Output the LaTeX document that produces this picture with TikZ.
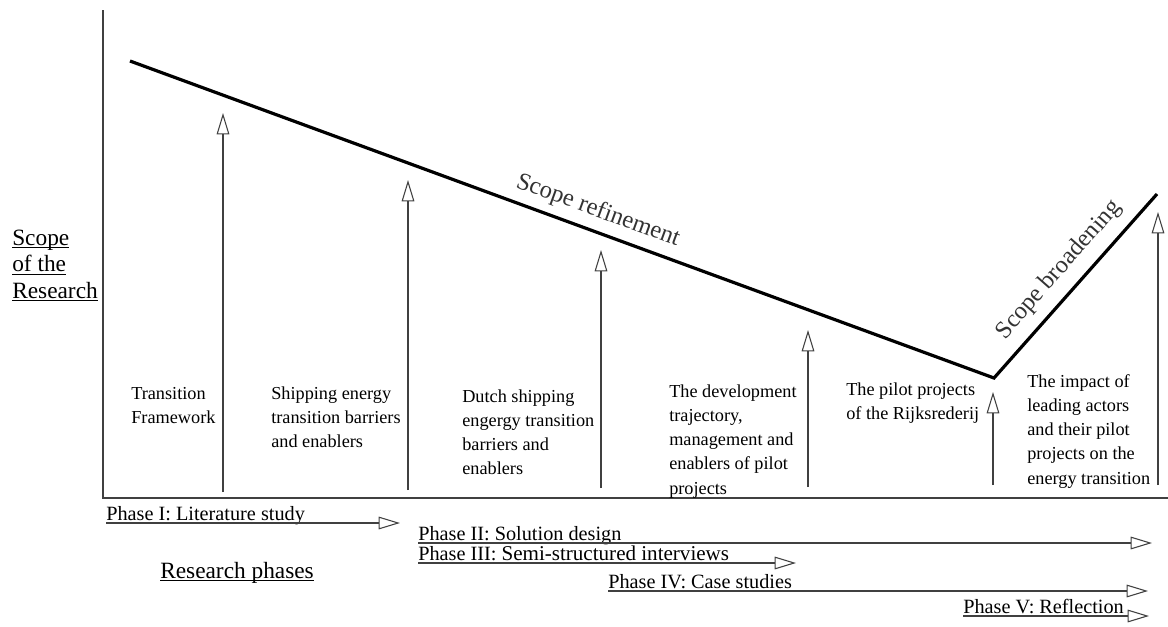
\documentclass[tikz,border=0pt]{standalone}
\usepackage{fontspec}
\setmainfont{Liberation Serif}
\usetikzlibrary{arrows.meta}
% underline at a fixed depth below the baseline (crosses descenders)
\newsavebox\ulbox
\newcommand\ulword[1]{\sbox\ulbox{#1}\rlap{\rule[-2.3pt]{\wd\ulbox}{0.75pt}}\usebox\ulbox}
\newcommand\lines[1]{\begin{tabular}[t]{@{}l@{}}#1\end{tabular}}
\begin{document}
\begin{tikzpicture}[x=0.75pt,y=-0.75pt,
  axisline/.style={draw=black!75,line width=0.9pt},
  trend/.style={draw=black,line width=2.4pt,line join=miter},
  headtip/.style={-{Triangle[length=16pt,width=9.5pt,fill=white]}},
  stem/.style={draw=black!75,line width=0.8pt,headtip},
  lbl/.style={inner sep=0pt,anchor=base west,font=\fontsize{13.7pt}{18.2pt}\selectfont},
  phase/.style={inner sep=0pt,anchor=base west,font=\fontsize{15.2pt}{18pt}\selectfont},
  axislabel/.style={inner sep=0pt,anchor=base west,font=\fontsize{17.5pt}{20pt}\selectfont},
  slope/.style={inner sep=0pt,text=black!80,font=\fontsize{18.4pt}{20pt}\selectfont}
]
\useasboundingbox (0,0) rectangle (1168,626);

% axes
\coordinate (origin) at (103,498);
\coordinate (ytop) at (103,10);
\coordinate (xend) at (1168,498);
\draw[axisline] (ytop) -- (origin) -- (xend);

% scope curve
\coordinate (s0) at (130,61);
\coordinate (s1) at (994,378);
\coordinate (s2) at (1157,194);
\draw[trend] (s0) -- (s1) -- (s2);
\node[slope,rotate=-20.1] (refine) at (598,211) {Scope refinement};
\node[slope,rotate=48.6] (broad) at (1059,270) {Scope broadening};

% axis labels
\node[axislabel] (ylab) at (12,245)
  {\lines{\ulword{Scope}\\ \ulword{of the}\\ \ulword{Research}}};
\node[axislabel] (xlab) at (160,578) {\ulword{Research phases}};

% focus of each step
\node[lbl] (t1) at (131,399) {\lines{Transition\\ Framework}};
\node[lbl] (t2) at (271,399) {\lines{Shipping energy\\ transition barriers\\ and enablers}};
\node[lbl] (t3) at (462,402) {\lines{Dutch shipping\\ engergy transition\\ barriers and\\ enablers}};
\node[lbl] (t4) at (669,397) {\lines{The development\\ trajectory,\\ management and\\ enablers of pilot\\ projects}};
\node[lbl] (t5) at (846,395) {\lines{The pilot projects\\ of the Rijksrederij}};
\node[lbl] (t6) at (1027,387) {\lines{The impact of\\ leading actors\\ and their pilot\\ projects on the\\ energy transition}};

% upward arrows
\coordinate (a1b) at (223,492); \coordinate (a1t) at (223,113);
\coordinate (a2b) at (408,490); \coordinate (a2t) at (408,180);
\coordinate (a3b) at (601,488); \coordinate (a3t) at (601,250);
\coordinate (a4b) at (808,487); \coordinate (a4t) at (808,330);
\coordinate (a5b) at (993,485); \coordinate (a5t) at (993,392);
\coordinate (a6b) at (1158,485); \coordinate (a6t) at (1158,212);
\foreach \i in {1,...,6} \draw[stem] (a\i b) -- (a\i t);

% research phases
\node[phase] (p1) at (106,520) {Phase I: Literature study};
\node[phase] (p2) at (418,540) {Phase II: Solution design};
\node[phase] (p3) at (418,560) {Phase III: \fontsize{15.8pt}{18pt}\selectfont Semi-structured interviews};
\node[phase] (p4) at (608,588) {Phase IV: Case studies};
\node[phase] (p5) at (963,613) {Phase V: Reflection};
\coordinate (p1s) at (106,523);  \coordinate (p1e) at (400,523);
\coordinate (p2s) at (418,543);  \coordinate (p2e) at (1152,543);
\coordinate (p3s) at (418,563);  \coordinate (p3e) at (796,563);
\coordinate (p4s) at (608,591);  \coordinate (p4e) at (1148,591);
\coordinate (p5s) at (963,616);  \coordinate (p5e) at (1149,616);
\foreach \i in {1,...,5} \draw[stem] (p\i s) -- (p\i e);
\end{tikzpicture}
\end{document}
